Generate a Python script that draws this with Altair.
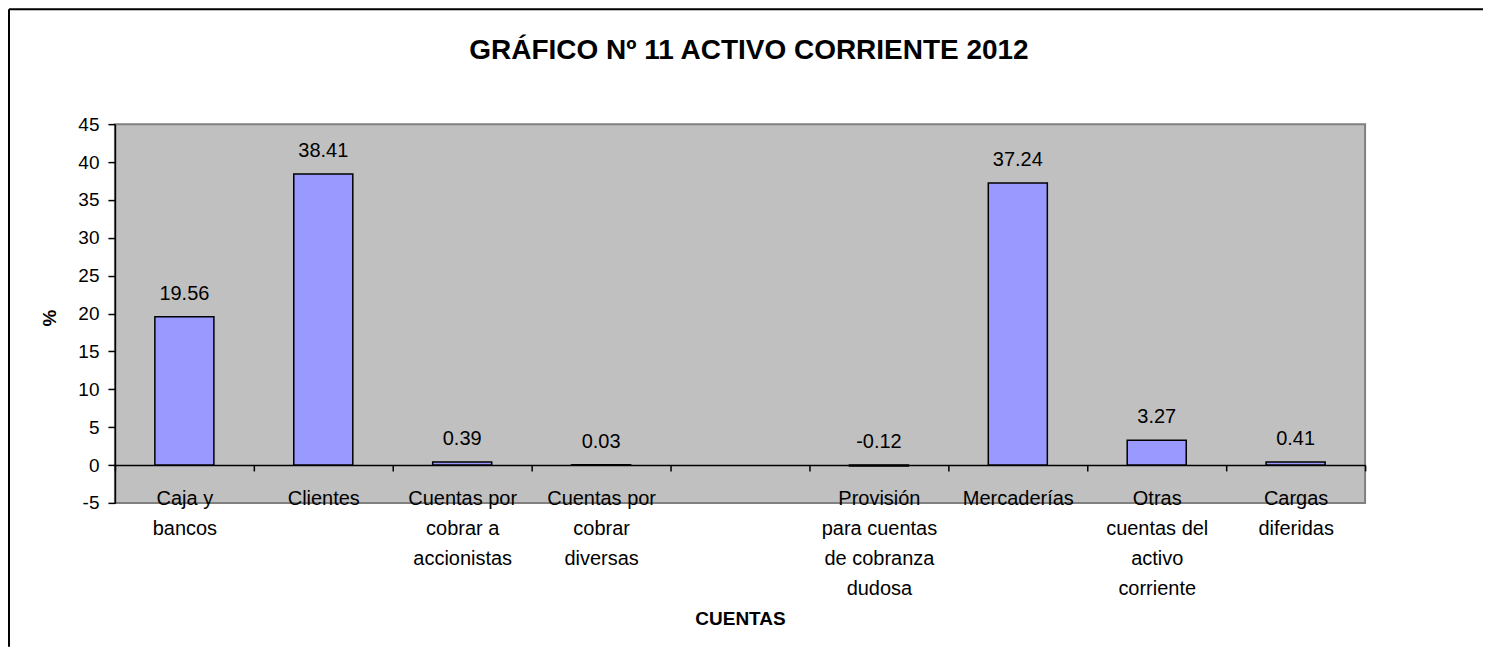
import altair as alt
import pandas as pd

# ---- data ----
chart_title = "GRÁFICO Nº 11 ACTIVO CORRIENTE 2012"
categories = [
    "Caja y|bancos",
    "Clientes",
    "Cuentas por|cobrar a|accionistas",
    "Cuentas por|cobrar|diversas",
    " ",
    "Provisión|para cuentas|de cobranza|dudosa",
    "Mercaderías",
    "Otras|cuentas del|activo|corriente",
    "Cargas|diferidas",
]
values = [19.56, 38.41, 0.39, 0.03, None, -0.12, 37.24, 3.27, 0.41]
y_ticks = [-5, 0, 5, 10, 15, 20, 25, 30, 35, 40, 45]

rows = [
    {"cat": c, "value": v, "label": f"{v:.2f}", "ypos": max(v, 0)}
    for c, v in zip(categories, values)
    if v is not None
]
df = pd.DataFrame(rows)

FONT = "Liberation Sans"
W, H = 1251, 379

x_enc = alt.X(
    "cat:N",
    sort=categories,
    scale=alt.Scale(domain=categories, paddingInner=0, paddingOuter=0),
    axis=alt.Axis(
        orient="bottom",
        offset=-38,
        domainColor="black",
        domainWidth=1.5,
        tickColor="black",
        tickWidth=1.5,
        tickSize=6,
        tickBand="extent",
        labelExpr="split(datum.label, '|')",
        labelFont=FONT,
        labelFontSize=20,
        labelLineHeight=30,
        labelPadding=18,
        labelBaseline="top",
        labelColor="black",
        labelAngle=0,
        labelLimit=0,
        labelOverlap=False,
        title="CUENTAS",
        titleFont=FONT,
        titleFontSize=19,
        titleFontWeight="bold",
        titleColor="black",
        titleX=W / 2,
        titleY=160,
        titleBaseline="alphabetic",
        titleAlign="center",
    ),
)

y_scale = alt.Scale(domain=[-5, 45], nice=False, zero=False)

bars = alt.Chart(df).mark_bar(
    fill="#9999FF", stroke="black", strokeWidth=1.5,
    width=alt.RelativeBandSize(0.425),
).encode(
    x=x_enc,
    y=alt.Y(
        "value:Q",
        scale=y_scale,
        axis=alt.Axis(
            values=y_ticks,
            tickCount=len(y_ticks) + 2,
            grid=False,
            domainColor="black",
            domainWidth=1.5,
            tickColor="black",
            tickWidth=1.5,
            tickSize=7,
            labelExpr="'' + datum.value",
            labelOverlap=False,
            labelFont=FONT,
            labelFontSize=19,
            labelColor="black",
            labelPadding=9,
            title="%",
            titleFont=FONT,
            titleFontSize=19,
            titleFontWeight="bold",
            titleColor="black",
            titleAngle=-90,
            titleX=-65,
            titleY=H / 2 + 4,
            titleBaseline="middle",
            titleAlign="center",
        ),
    ),
)

texts = alt.Chart(df).mark_text(
    font=FONT, fontSize=20, color="black", baseline="alphabetic", dy=-17
).encode(
    x=x_enc,
    y=alt.Y("ypos:Q", scale=y_scale),
    text="label:N",
)

one = pd.DataFrame({"t": [chart_title]})
frame_top = alt.Chart(one).mark_rule(color="black", strokeWidth=2).encode(
    x=alt.value(-106), x2=alt.value(1369), y=alt.value(-115)
)
frame_left = alt.Chart(one).mark_rule(color="black", strokeWidth=2).encode(
    x=alt.value(-106), y=alt.value(-115), y2=alt.value(523)
)
title_text = alt.Chart(one).mark_text(
    font=FONT, fontSize=28, fontWeight="bold", color="black",
    align="center", baseline="alphabetic",
).encode(
    x=alt.value(W / 2 + 9), y=alt.value(-65), text="t:N"
)

chart = alt.layer(frame_top, frame_left, title_text, bars, texts).properties(
    width=W,
    height=H,
    padding=0,
    background="white",
).configure_view(
    fill="#C0C0C0", stroke="#808080", strokeWidth=2
)

chart.save("out.html", embed_options={"renderer": "svg", "actions": False})
